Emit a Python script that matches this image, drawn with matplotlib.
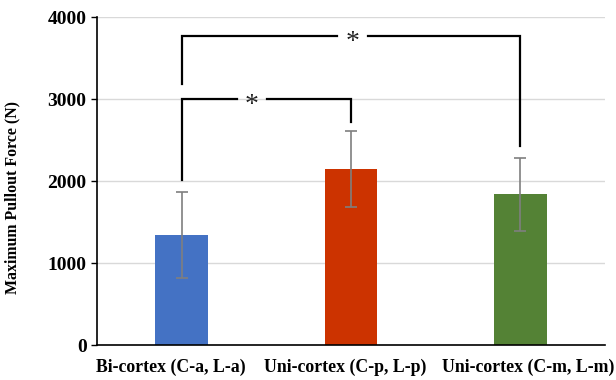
import numpy as np
import matplotlib.pyplot as plt
from matplotlib.transforms import ScaledTranslation

# datos
grupos = ["Bi-cortex (C-a, L-a)", "Uni-cortex (C-p, L-p)", "Uni-cortex (C-m, L-m)"]
media = [1340, 2150, 1840]
sd = [525, 465, 445]
colores = ["#4472C4", "#CC3300", "#548235"]

# corchetes de significancia: (i, j, y base izq, y arriba, y base der, x del asterisco)
corchetes = [
    (0, 1, 2010, 3000, 2720, 0.415),
    (0, 2, 3185, 3770, 2430, 1.01),
]

plt.rcParams["font.family"] = ["Liberation Serif", "DejaVu Serif"]

fig = plt.figure(figsize=(6.16, 3.8), dpi=100)
ax = fig.add_axes([97 / 616, 1 - 345 / 380, (605 - 97) / 616, (345 - 17) / 380])

x = np.arange(len(grupos))
ax.bar(x, media, width=0.31, color=colores, zorder=2)
ax.errorbar(x, media, yerr=sd, fmt="none", ecolor="#7f7f7f", elinewidth=1.2,
            capsize=4, capthick=1.2, zorder=3)

for i, j, y_i, y_top, y_j, xs in corchetes:
    gap = 0.09
    ax.plot([x[i], x[i], xs - gap], [y_i, y_top, y_top], color="black", lw=1.6,
            solid_joinstyle="miter", zorder=4)
    ax.plot([xs + gap, x[j], x[j]], [y_top, y_top, y_j], color="black", lw=1.6,
            solid_joinstyle="miter", zorder=4)
    ax.annotate("*", (xs, y_top), xytext=(0, -5), textcoords="offset points",
                ha="center", va="center", fontsize=20, color="#222222", zorder=5)

ax.set_xlim(-0.5, 2.5)
ax.set_ylim(0, 4000)
ax.set_yticks([0, 1000, 2000, 3000, 4000])
ax.set_xticks(x)
ax.set_xticklabels(grupos, fontsize=12.8, fontweight="bold")
ax.tick_params(axis="x", length=0, pad=10)
ax.tick_params(axis="y", length=4, width=1, labelsize=14)
for lab in ax.get_yticklabels():
    lab.set_fontweight("bold")

# desplazamiento horizontal de las etiquetas (px)
desplaz = [-11, -6, 8]
for lab, dx in zip(ax.get_xticklabels(), desplaz):
    lab.set_transform(lab.get_transform() + ScaledTranslation(dx / 100, 0, fig.dpi_scale_trans))

ax.grid(axis="y", color="#d9d9d9", linewidth=1, zorder=0)
ax.set_axisbelow(True)
for s in ["top", "right"]:
    ax.spines[s].set_visible(False)
ax.spines["left"].set_linewidth(1.2)
ax.spines["bottom"].set_linewidth(1.2)

ax.set_ylabel("Maximum Pullout Force (N)", fontsize=11.4, fontweight="bold")
ax.yaxis.set_label_coords(-0.15, 0.45)

fig.savefig("out.png", dpi=100)
